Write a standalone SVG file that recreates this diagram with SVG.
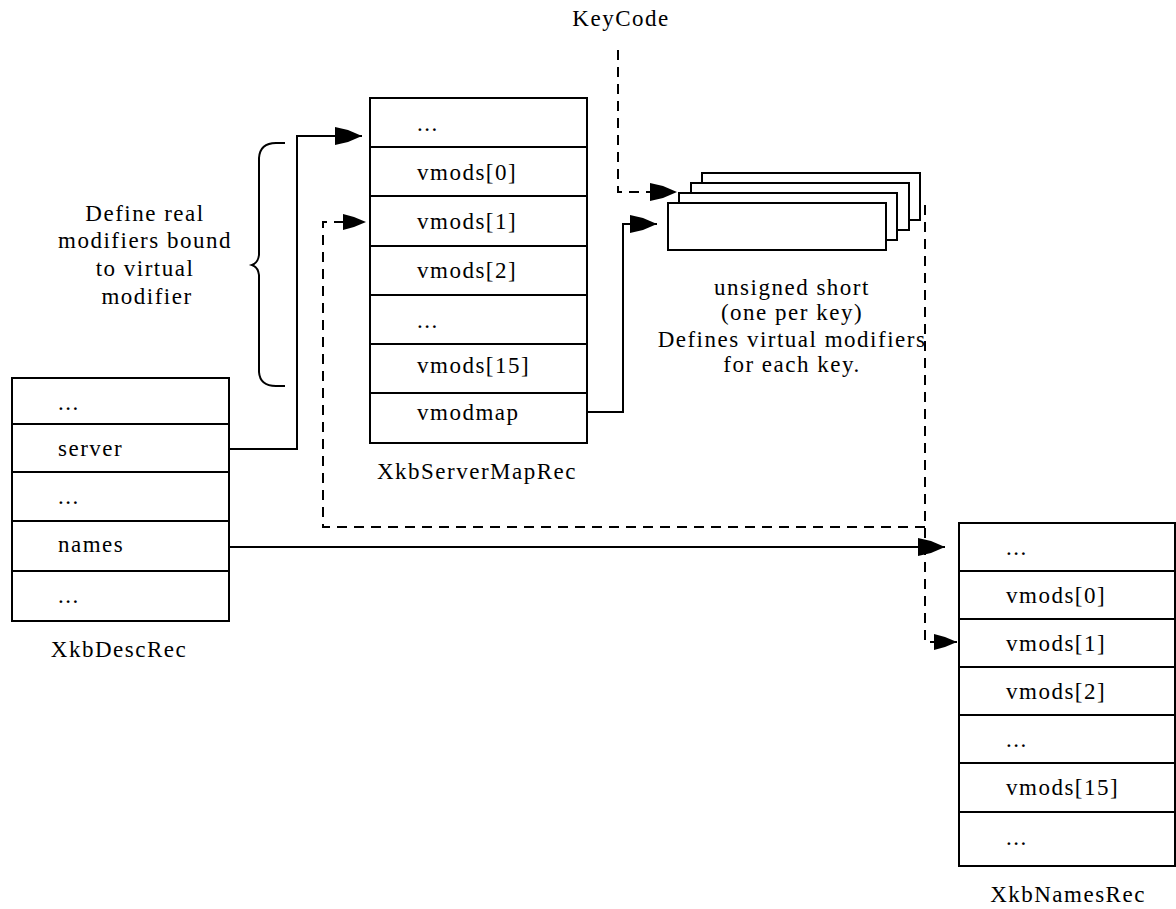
<svg xmlns="http://www.w3.org/2000/svg" width="1176" height="909" viewBox="0 0 1176 909">
<style>
  .box { fill: #ffffff; stroke: #000; stroke-width: 2; }
  .sep { stroke: #000; stroke-width: 2; fill: none; }
  .t { font-family: "Liberation Serif", "Times New Roman", serif; font-size: 23px; letter-spacing: 1.5px; fill: #000; }
  .c { text-anchor: middle; }
  .solid { fill: none; stroke: #000; stroke-width: 2; }
  .dash { fill: none; stroke: #000; stroke-width: 2; stroke-dasharray: 10 7; }
  .head { fill: #000; stroke: none; }
</style>
<defs>
  <marker id="arrow" markerUnits="userSpaceOnUse" viewBox="0 -10 28 20" refX="27" refY="0" markerWidth="28" markerHeight="20" orient="auto">
    <path class="head" d="M0,-9 L13,-6 L27,0 L13,6 L0,9 Z"/>
  </marker>
  <marker id="arrowS" markerUnits="userSpaceOnUse" viewBox="0 -9 24 18" refX="23" refY="0" markerWidth="24" markerHeight="18" orient="auto">
    <path class="head" d="M0,-8 L11,-5 L23,0 L11,5 L0,8 Z"/>
  </marker>
</defs>
<rect width="1176" height="909" fill="#ffffff"/>

<g id="connectors">
  <path class="solid" d="M230,449 H297 V136 H362" marker-end="url(#arrow)"/>
  <path class="solid" d="M230,547 H945" marker-end="url(#arrow)"/>
  <path class="solid" d="M587,412 H623 V224 H657" marker-end="url(#arrow)"/>
  <path class="dash" d="M618,50 V192 H677" marker-end="url(#arrow)"/>
  <path class="dash" d="M925,205 V642 H957" marker-end="url(#arrowS)"/>
  <path class="dash" d="M925,527 H323 V222 H366" marker-end="url(#arrowS)"/>
</g>

<g id="brace">
  <path class="solid" d="M285,143 H276 Q260,143 259,158 V255 Q258,263 252,265 Q258,267 259,275 V372 Q260,386 276,386 H285"/>
  <text class="t c" x="145" y="221">Define real</text>
  <text class="t c" x="145" y="248">modifiers bound</text>
  <text class="t c" x="145" y="276">to virtual</text>
  <text class="t c" x="147" y="304">modifier</text>
</g>

<g id="keycode">
  <text class="t c" x="621" y="26">KeyCode</text>
</g>

<g id="XkbDescRec">
  <rect class="box" x="12" y="378" width="217" height="243"/>
  <path class="sep" d="M12,424 H229 M12,472 H229 M12,521 H229 M12,571 H229"/>
  <text class="t" x="58" y="410">...</text>
  <text class="t" x="58" y="456">server</text>
  <text class="t" x="58" y="504">...</text>
  <text class="t" x="58" y="552">names</text>
  <text class="t" x="58" y="603">...</text>
  <text class="t c" x="119" y="657">XkbDescRec</text>
</g>

<g id="XkbServerMapRec">
  <rect class="box" x="370" y="98" width="217" height="345"/>
  <path class="sep" d="M370,147 H587 M370,196 H587 M370,246 H587 M370,295 H587 M370,344 H587 M370,393 H587"/>
  <text class="t" x="417" y="131">...</text>
  <text class="t" x="417" y="180">vmods[0]</text>
  <text class="t" x="417" y="229">vmods[1]</text>
  <text class="t" x="417" y="278">vmods[2]</text>
  <text class="t" x="417" y="328">...</text>
  <text class="t" x="417" y="373">vmods[15]</text>
  <text class="t" x="417" y="420">vmodmap</text>
  <text class="t c" x="477" y="479">XkbServerMapRec</text>
</g>

<g id="vmodmapArray">
  <rect class="box" x="702" y="173" width="218" height="47"/>
  <rect class="box" x="691" y="183" width="218" height="47"/>
  <rect class="box" x="679" y="193" width="218" height="47"/>
  <rect class="box" x="668" y="203" width="218" height="47"/>
  <text class="t c" x="792" y="295">unsigned short</text>
  <text class="t c" x="792" y="320">(one per key)</text>
  <text class="t c" x="792" y="347">Defines virtual modifiers</text>
  <text class="t c" x="792" y="372">for each key.</text>
</g>

<g id="XkbNamesRec">
  <rect class="box" x="959" y="523" width="216" height="343"/>
  <path class="sep" d="M959,571 H1175 M959,619 H1175 M959,667 H1175 M959,715 H1175 M959,763 H1175 M959,812 H1175"/>
  <text class="t" x="1006" y="555">...</text>
  <text class="t" x="1006" y="603">vmods[0]</text>
  <text class="t" x="1006" y="651">vmods[1]</text>
  <text class="t" x="1006" y="699">vmods[2]</text>
  <text class="t" x="1006" y="747">...</text>
  <text class="t" x="1006" y="795">vmods[15]</text>
  <text class="t" x="1006" y="845">...</text>
  <text class="t c" x="1068" y="902">XkbNamesRec</text>
</g>
</svg>
